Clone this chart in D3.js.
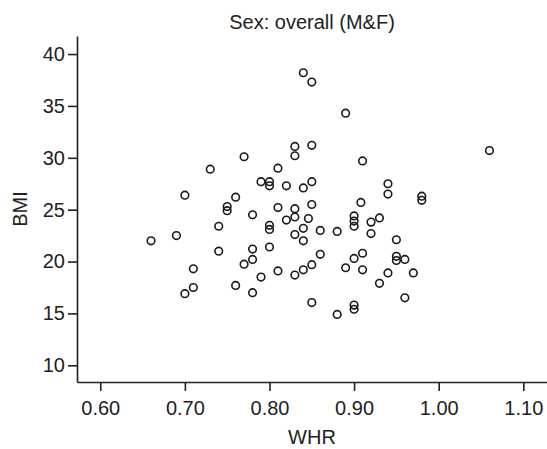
<!DOCTYPE html>
<html>
<head>
<meta charset="utf-8">
<script src="https://cdn.jsdelivr.net/npm/d3@7"></script>
<style>
  body { margin: 0; background: #fff; }
  text { font-family: "Liberation Sans", Arial, sans-serif; fill: #222; }
</style>
</head>
<body>
<svg id="svg"></svg>
<script>
// WHR vs BMI
const whr = [0.84, 0.85, 0.89, 0.83, 0.85, 0.83, 0.77, 1.06, 0.73, 0.81,
    0.91, 0.79, 0.80, 0.80, 0.82, 0.84, 0.85, 0.94, 0.94, 0.70,
    0.76, 0.98, 0.98, 0.75, 0.75, 0.908, 0.85, 0.81, 0.83, 0.78,
    0.74, 0.82, 0.83, 0.846, 0.90, 0.90, 0.90, 0.92, 0.93, 0.80,
    0.80, 0.84, 0.86, 0.88, 0.83, 0.92, 0.84, 0.66, 0.69, 0.95,
    0.74, 0.78, 0.80, 0.86, 0.91, 0.78, 0.90, 0.95, 0.95, 0.96,
    0.77, 0.85, 0.71, 0.89, 0.91, 0.81, 0.84, 0.83, 0.79, 0.94,
    0.97, 0.93, 0.76, 0.71, 0.70, 0.78, 0.96, 0.85, 0.90, 0.90,
    0.88];
const bmi = [38.2, 37.3, 34.3, 31.1, 31.2, 30.2, 30.1, 30.7, 28.9, 29.0,
    29.7, 27.7, 27.7, 27.3, 27.3, 27.1, 27.7, 27.5, 26.5, 26.4,
    26.2, 26.3, 25.9, 25.3, 24.9, 25.7, 25.5, 25.2, 25.1, 24.5,
    23.4, 24.0, 24.3, 24.15, 24.4, 23.9, 23.4, 23.8, 24.2, 23.5,
    23.1, 23.2, 23.0, 22.9, 22.6, 22.7, 22.0, 22.0, 22.5, 22.1,
    21.0, 21.2, 21.4, 20.7, 20.8, 20.2, 20.3, 20.5, 20.1, 20.2,
    19.75, 19.7, 19.3, 19.4, 19.2, 19.1, 19.2, 18.7, 18.5, 18.9,
    18.9, 17.9, 17.7, 17.5, 16.9, 17.0, 16.5, 16.05, 15.8, 15.4,
    14.9];
const xTicks = [0.60, 0.70, 0.80, 0.90, 1.00, 1.10];
const yTicks = [10, 15, 20, 25, 30, 35, 40];

const width = 547, height = 449;
const plotLeft = 77, plotRight = 547, plotTop = 36, plotBottom = 382;

const svg = d3.select('#svg')
    .attr('width', width)
    .attr('height', height);

const x = d3.scaleLinear().domain([0.5725, 1.128]).range([plotLeft, plotRight]);
const y = d3.scaleLinear().domain([8.39, 41.74]).range([plotBottom, plotTop]);

svg.append('g')
    .attr('transform', `translate(0,${plotBottom})`)
    .call(d3.axisBottom(x).tickValues(xTicks).tickFormat(d3.format('.2f'))
        .tickSize(9).tickPadding(10).tickSizeOuter(0))
    .call(g => g.select('.domain').attr('stroke', '#222').attr('stroke-width', 1.6))
    .call(g => g.selectAll('.tick line').attr('stroke', '#222').attr('stroke-width', 1.6))
    .call(g => g.selectAll('text').attr('font-size', 20).attr('font-family', null).attr('fill', '#222'));

svg.append('g')
    .attr('transform', `translate(${plotLeft},0)`)
    .call(d3.axisLeft(y).tickValues(yTicks).tickSize(9).tickPadding(3).tickSizeOuter(0))
    .call(g => g.select('.domain').attr('stroke', '#222').attr('stroke-width', 1.6))
    .call(g => g.selectAll('.tick line').attr('stroke', '#222').attr('stroke-width', 1.6))
    .call(g => g.selectAll('text').attr('font-size', 20).attr('font-family', null).attr('fill', '#222'));

svg.append('g')
    .selectAll('circle')
    .data(d3.range(whr.length))
    .join('circle')
        .attr('cx', i => x(whr[i]))
        .attr('cy', i => y(bmi[i]))
        .attr('r', 3.8)
        .attr('fill', 'none')
        .attr('stroke', '#1a1a1a')
        .attr('stroke-width', 1.6);

svg.append('text')
    .attr('x', 312)
    .attr('y', 29)
    .attr('text-anchor', 'middle')
    .attr('font-size', 20)
    .text('Sex: overall (M&F)');

svg.append('text')
    .attr('x', 312)
    .attr('y', 444)
    .attr('text-anchor', 'middle')
    .attr('font-size', 20)
    .text('WHR');

svg.append('text')
    .attr('transform', `translate(27,${(plotTop + plotBottom) / 2}) rotate(-90)`)
    .attr('text-anchor', 'middle')
    .attr('font-size', 20)
    .text('BMI');
</script>
</body>
</html>
